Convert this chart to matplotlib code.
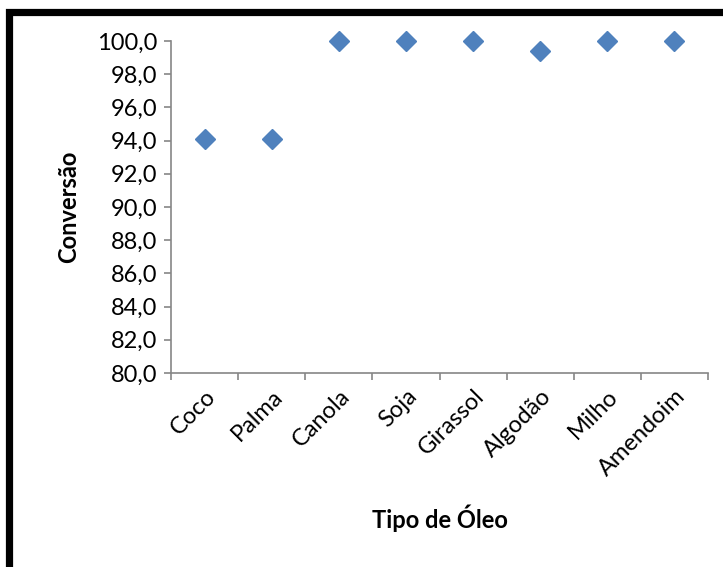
import matplotlib
matplotlib.use("Agg")
import matplotlib.pyplot as plt
from matplotlib.patches import Rectangle
from matplotlib.ticker import FixedLocator, FuncFormatter

plt.rcParams['font.family'] = ['Lato', 'DejaVu Sans']

# ── dados ──
oleos = ["Coco", "Palma", "Canola", "Soja", "Girassol", "Algodão", "Milho", "Amendoim"]
conversao = [94.1, 94.1, 100.0, 100.0, 100.0, 99.4, 100.0, 100.0]
y_ticks = [80, 82, 84, 86, 88, 90, 92, 94, 96, 98, 100]

W, H = 723, 567
fig = plt.figure(figsize=(W / 100, H / 100), dpi=100)
ax = fig.add_axes([171 / W, 1 - 373 / H, (708 - 171) / W, (373 - 41) / H])

x = list(range(1, len(oleos) + 1))
ax.plot(x, conversao, linestyle='none', marker='D', markersize=10,
        color='#4F81BD', markeredgecolor='#4F81BD', clip_on=False)

ax.set_xlim(0.5, len(oleos) + 0.5)
ax.set_ylim(80, 100)

grey = '#868686'
for s in ['top', 'right']:
    ax.spines[s].set_visible(False)
for s in ['left', 'bottom']:
    ax.spines[s].set_color(grey)
    ax.spines[s].set_linewidth(1.2)

ax.yaxis.set_major_locator(FixedLocator(y_ticks))
ax.yaxis.set_major_formatter(FuncFormatter(lambda v, p: f"{v:.1f}".replace('.', ',')))
ax.tick_params(axis='y', length=5, width=1.2, color=grey, labelsize=17, pad=5)

# ticks nas fronteiras, rótulos no centro das categorias
ax.xaxis.set_major_locator(FixedLocator([i + 0.5 for i in range(0, len(oleos) + 1)]))
ax.xaxis.set_major_formatter(FuncFormatter(lambda v, p: ""))
ax.xaxis.set_minor_locator(FixedLocator(x))
ax.set_xticklabels(oleos, minor=True)
ax.tick_params(axis='x', which='major', length=5, width=1.2, color=grey)
ax.tick_params(axis='x', which='minor', length=0, labelsize=17, pad=9)
for lbl in ax.get_xticklabels(minor=True):
    lbl.set_rotation(45)
    lbl.set_ha('right')
    lbl.set_rotation_mode('anchor')

ax.set_ylabel("Conversão", fontsize=17, fontweight='bold', labelpad=12)
ax.set_xlabel("Tipo de Óleo", fontsize=17, fontweight='bold', labelpad=18)

# moldura preta (cortada à direita e embaixo)
fig.patches.append(Rectangle((8.5 / W, -0.2), 1.5, 1.2 - 11.5 / H,
                             transform=fig.transFigure, fill=False,
                             edgecolor='black', linewidth=5.2))

fig.savefig("out.png", dpi=100)
plt.close(fig)
